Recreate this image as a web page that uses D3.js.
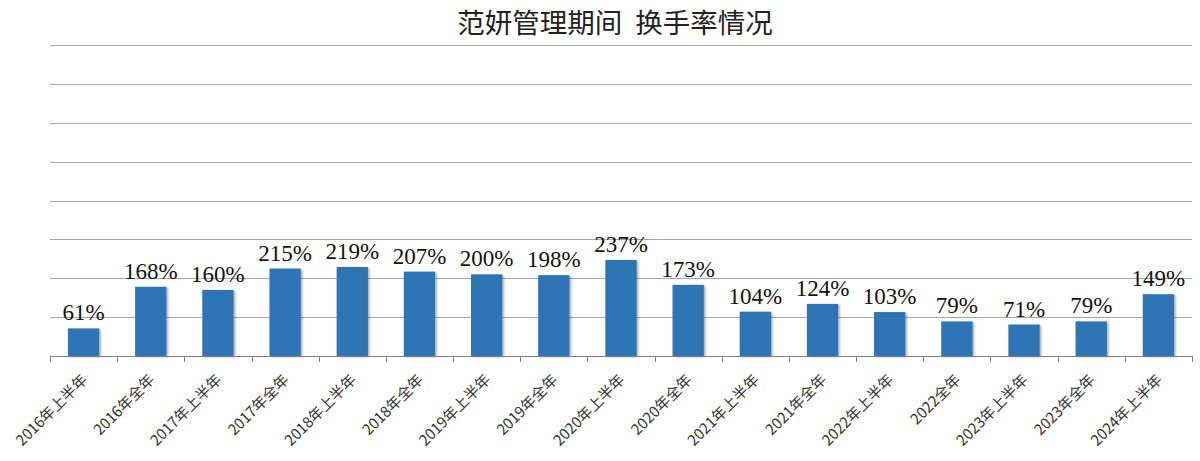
<!DOCTYPE html>
<html>
<head>
<meta charset="utf-8">
<script src="https://cdn.jsdelivr.net/npm/d3@7"></script>
<style>
  html, body { margin: 0; padding: 0; background: #fff; }
  svg { display: block; }
</style>
</head>
<body>
<svg id="chart" width="1200" height="461"></svg>
<script>
const title = "范妍管理期间 换手率情况";
const categories = ["2016年上半年","2016年全年","2017年上半年","2017年全年","2018年上半年","2018年全年","2019年上半年","2019年全年","2020年上半年","2020年全年","2021年上半年","2021年全年","2022年上半年","2022全年","2023年上半年","2023年全年","2024年上半年"];
const turnover = [61, 168, 160, 215, 219, 207, 200, 198, 237, 173, 104, 124, 103, 79, 71, 79, 149];
const gridValues = [-10, 90, 190, 290, 390, 490, 590, 690, 790];
const axisMin = -10, axisMax = 790;

const svg = d3.select("#chart");
const plot = { left: 50, right: 1192, top: 45, bottom: 356 };

const defs = svg.append("defs");
const f = defs.append("filter").attr("id", "shadow").attr("x", "-20%").attr("y", "-20%").attr("width", "150%").attr("height", "150%");
f.append("feDropShadow").attr("dx", 1.5).attr("dy", 1).attr("stdDeviation", 0.8).attr("flood-color", "#000").attr("flood-opacity", 0.35);

const x = d3.scaleBand().domain(categories).range([plot.left, plot.right]).paddingInner(0.534).paddingOuter(0.267);
const y = d3.scaleLinear().domain([axisMin, axisMax]).range([plot.bottom, plot.top]);

// title
const t = svg.append("text")
  .attr("x", 615).attr("y", 33)
  .attr("text-anchor", "middle")
  .attr("font-family", "'Noto Sans CJK SC', sans-serif")
  .attr("font-size", 27.5)
  .attr("fill", "#222");
const parts = title.split(" ");
t.append("tspan").text(parts[0]);
t.append("tspan").attr("dx", 7).text(" " + parts[1]);

// gridlines
svg.append("g").selectAll("line").data(gridValues.slice(1)).join("line")
  .attr("x1", plot.left).attr("x2", plot.right)
  .attr("y1", d => Math.round(y(d)) + 0.5).attr("y2", d => Math.round(y(d)) + 0.5)
  .attr("stroke", "#a6a6a6").attr("stroke-width", 1);

// bars
svg.append("g").selectAll("rect").data(turnover).join("rect")
  .attr("x", (d, i) => x(categories[i]))
  .attr("width", x.bandwidth())
  .attr("y", d => y(d))
  .attr("height", d => y(axisMin) - y(d))
  .attr("fill", "#2e75b6")
  .attr("filter", "url(#shadow)");

// x axis line + ticks at band boundaries
const ax = svg.append("g");
ax.append("line").attr("x1", plot.left).attr("x2", plot.right)
  .attr("y1", plot.bottom + 0.5).attr("y2", plot.bottom + 0.5)
  .attr("stroke", "#7f7f7f").attr("stroke-width", 1);
const boundaries = categories.map(c => x(c) - x.step() * x.paddingInner() / 2);
boundaries[0] = plot.left;
boundaries.push(plot.right);
ax.selectAll("line.tick").data(boundaries).join("line").attr("class", "tick")
  .attr("x1", d => Math.round(d) + 0.5).attr("x2", d => Math.round(d) + 0.5)
  .attr("y1", plot.bottom).attr("y2", plot.bottom + 6)
  .attr("stroke", "#7f7f7f").attr("stroke-width", 1);

// x labels
ax.selectAll("text").data(categories).join("text")
  .attr("transform", d => `translate(${x(d) + x.bandwidth() / 2 + 1},${plot.bottom + 21}) rotate(-45)`)
  .attr("text-anchor", "end")
  .attr("dy", "0.35em")
  .attr("font-family", "'Noto Sans CJK SC', 'Noto Sans', sans-serif")
  .attr("font-size", 15)
  .attr("fill", "#333")
  .text(d => d);

// value labels
svg.append("g").selectAll("text").data(turnover).join("text")
  .attr("x", (d, i) => x(categories[i]) + x.bandwidth() / 2)
  .attr("y", d => y(d) - 8)
  .attr("text-anchor", "middle")
  .attr("font-family", "'Liberation Serif', 'Times New Roman', serif")
  .attr("font-size", 23)
  .attr("fill", "#111")
  .text(d => d + "%");
</script>
</body>
</html>
